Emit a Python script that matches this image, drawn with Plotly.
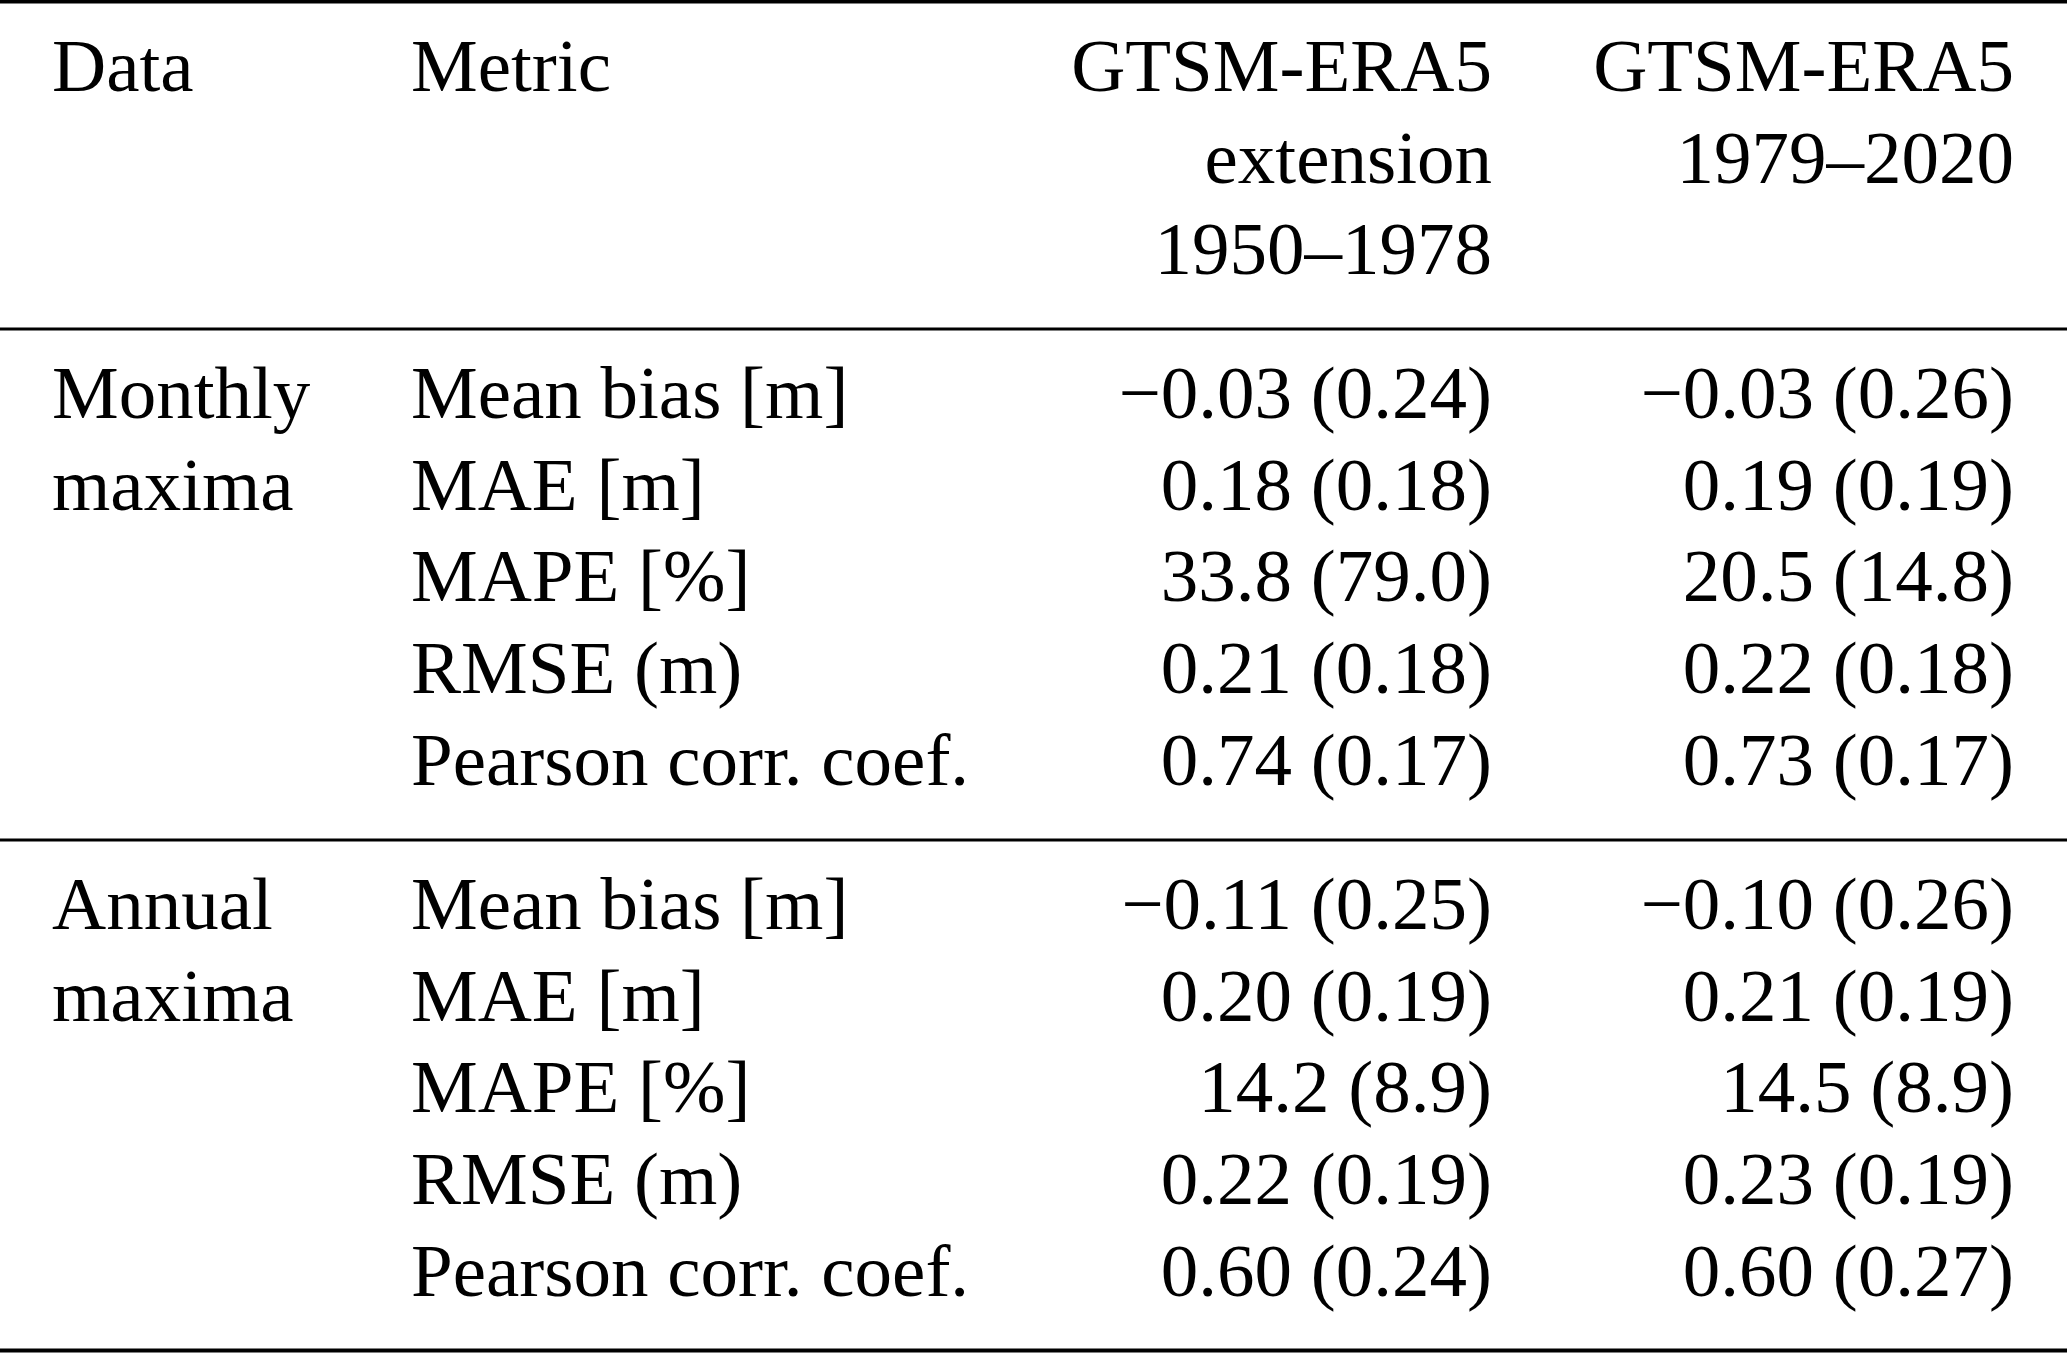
import plotly.graph_objects as go

# ---------------- data ----------------
header_data = ["Data"]
header_metric = ["Metric"]
header_ext = ["GTSM-ERA5", "extension", "1950–1978"]
header_era5 = ["GTSM-ERA5", "1979–2020"]

groups = [["Monthly", "maxima"], ["Annual", "maxima"]]
metrics = ["Mean bias [m]", "MAE [m]", "MAPE [%]", "RMSE (m)", "Pearson corr. coef."]
decimals = [2, 2, 1, 2, 2]

ext_monthly_mean = [-0.03, 0.18, 33.8, 0.21, 0.74]
ext_monthly_std = [0.24, 0.18, 79.0, 0.18, 0.17]
era5_monthly_mean = [-0.03, 0.19, 20.5, 0.22, 0.73]
era5_monthly_std = [0.26, 0.19, 14.8, 0.18, 0.17]

ext_annual_mean = [-0.11, 0.20, 14.2, 0.22, 0.60]
ext_annual_std = [0.25, 0.19, 8.9, 0.19, 0.24]
era5_annual_mean = [-0.10, 0.21, 14.5, 0.23, 0.60]
era5_annual_std = [0.26, 0.19, 8.9, 0.19, 0.27]

# ---------------- layout constants ----------------
W, H = 2067, 1353
FS = 75
FONT = "Liberation Serif, Times New Roman, serif"
BASE_SHIFT = 0.265       # distance from text anchor (middle) to baseline, in em
X_COL = [52, 411, 1492, 2014]
HEADER_BASE = 92
LINE_STEP = 91.8
SECTION_BASE = [419, 930]
RULES = [(1.5, 4), (329, 3), (840, 3), (1350.5, 4)]


def fmt(v, d):
    s = f"{abs(v):.{d}f}"
    return ("−" + s) if v < 0 else s


def cell(m, s, d):
    return f"{fmt(m, d)} ({fmt(s, d)})"


def ty(baseline):
    return baseline - BASE_SHIFT * FS


texts, xs, ys, pos = [], [], [], []


def add(t, x, baseline, p):
    texts.append(t)
    xs.append(x)
    ys.append(ty(baseline))
    pos.append(p)


# header
for i, t in enumerate(header_data):
    add(t, X_COL[0], HEADER_BASE + i * LINE_STEP, "middle right")
for i, t in enumerate(header_metric):
    add(t, X_COL[1], HEADER_BASE + i * LINE_STEP, "middle right")
for i, t in enumerate(header_ext):
    add(t, X_COL[2], HEADER_BASE + i * LINE_STEP, "middle left")
for i, t in enumerate(header_era5):
    add(t, X_COL[3], HEADER_BASE + i * LINE_STEP, "middle left")

sections = [
    (ext_monthly_mean, ext_monthly_std, era5_monthly_mean, era5_monthly_std),
    (ext_annual_mean, ext_annual_std, era5_annual_mean, era5_annual_std),
]
for g, (em, es, rm, rs) in enumerate(sections):
    base = SECTION_BASE[g]
    for i, t in enumerate(groups[g]):
        add(t, X_COL[0], base + i * LINE_STEP, "middle right")
    for i, name in enumerate(metrics):
        b = base + i * LINE_STEP
        add(name, X_COL[1], b, "middle right")
        add(cell(em[i], es[i], decimals[i]), X_COL[2], b, "middle left")
        add(cell(rm[i], rs[i], decimals[i]), X_COL[3], b, "middle left")

fig = go.Figure()
fig.add_trace(go.Scatter(
    x=xs, y=ys, text=texts, mode="text", textposition=pos,
    textfont=dict(family=FONT, size=FS, color="#000000"),
    hoverinfo="skip", showlegend=False, cliponaxis=False,
))

for y, w in RULES:
    fig.add_shape(type="line", xref="paper", x0=0, x1=1, yref="y", y0=y, y1=y,
                  line=dict(color="#000000", width=w))

fig.update_layout(
    width=W, height=H, margin=dict(l=0, r=0, t=0, b=0),
    paper_bgcolor="white", plot_bgcolor="white",
    xaxis=dict(range=[0, W], visible=False, fixedrange=True),
    yaxis=dict(range=[H, 0], visible=False, fixedrange=True),
    showlegend=False,
)

# remove the default page margin so the figure fills the window exactly
fig.write_html("out.html",
               config={"displayModeBar": False, "staticPlot": True},
               post_script="document.body.style.margin='0';document.body.style.overflow='hidden';")
